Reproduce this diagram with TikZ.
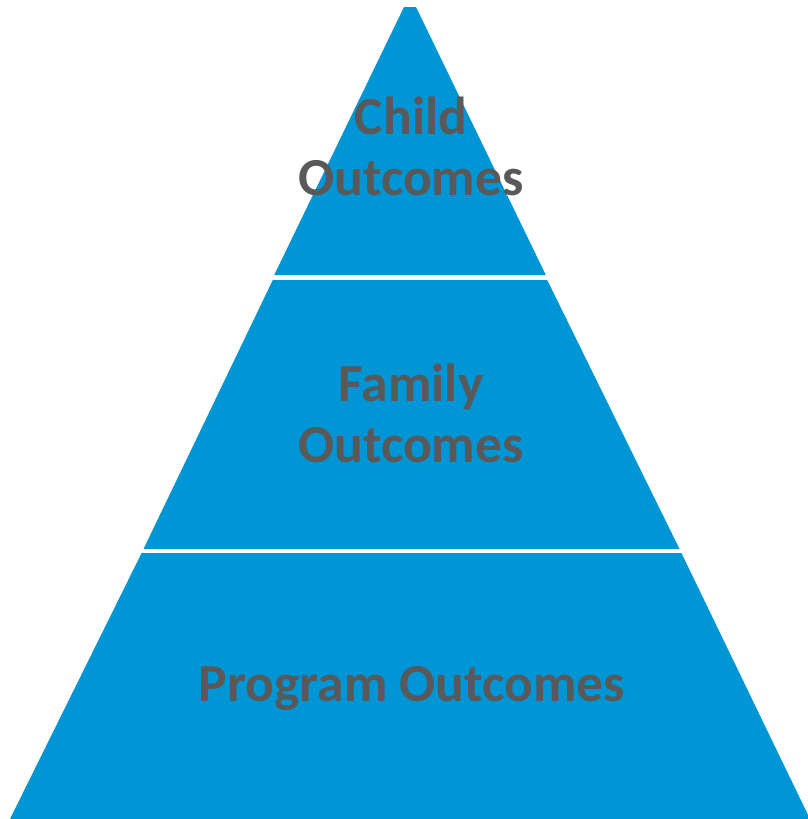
\documentclass[tikz,border=0pt]{standalone}
\usepackage{fontspec}
\setmainfont{Carlito}
\definecolor{pyrblue}{HTML}{0096D6}
\definecolor{txtgray}{HTML}{595959}
\begin{document}
\begin{tikzpicture}[x=1pt,y=-1pt,
  tier/.style={fill=pyrblue,draw=none},
  label/.style={text=txtgray,font=\fontsize{53.5}{61}\selectfont\bfseries,align=center,inner sep=0pt}]
\useasboundingbox (0,0) rectangle (808,819);
% half width at y: 6 + 0.4828*(y-7)
\path[tier] (404,7) -- (416,7) -- (545.8,275) -- (274.2,275) -- cycle;
\path[tier] (272.8,280) -- (547.2,280) -- (679.5,549) -- (143.5,549) -- cycle;
\path[tier] (141.6,553) -- (681.4,553) -- (810,819) -- (10,819) -- cycle;
\node[label] (child) at (411,146) {Child\\Outcomes};
\node[label] (family) at (411,413) {Family\\Outcomes};
\node[label] (program) at (412,688) {Program Outcomes};
\end{tikzpicture}
\end{document}
